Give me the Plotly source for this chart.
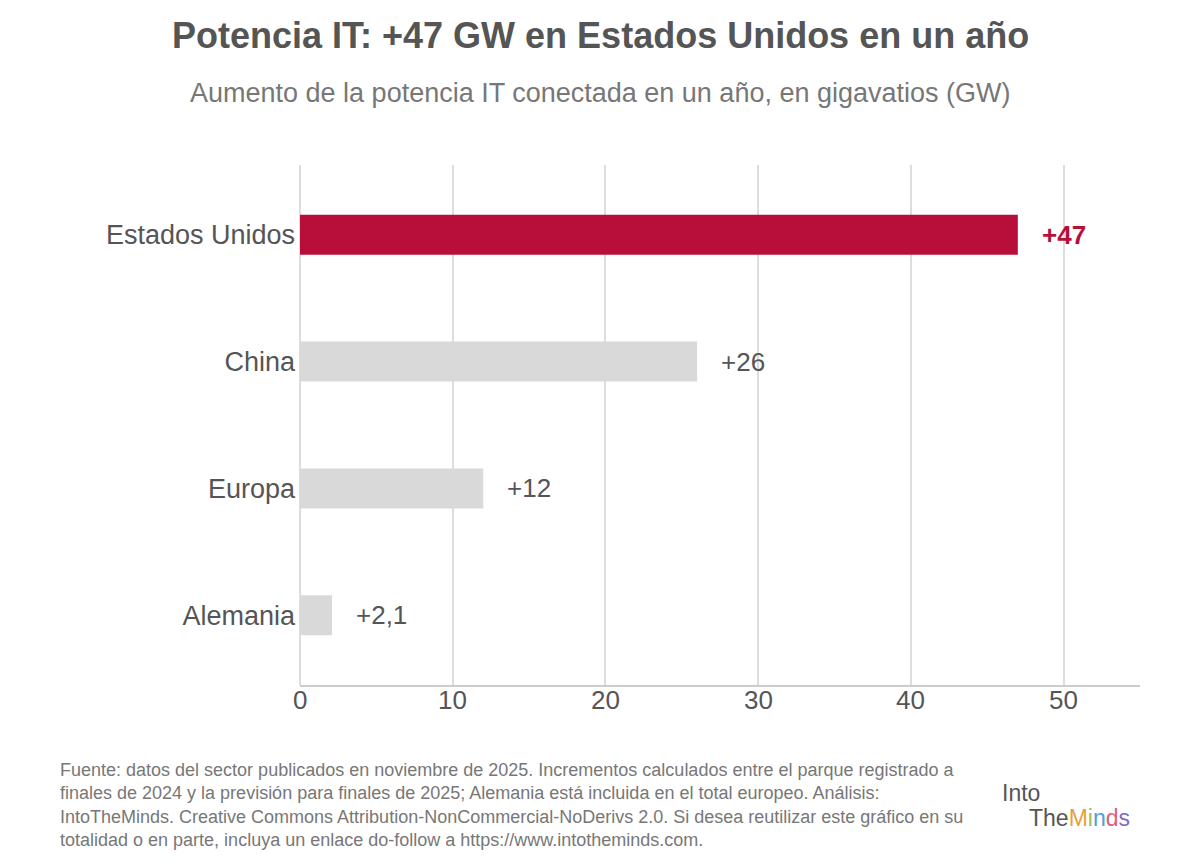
import plotly.graph_objects as go

regions = ["Estados Unidos", "China", "Europa", "Alemania"]
values = [47, 26, 12, 2.1]
labels = ["<b>+47</b>", "+26", "+12", "+2,1"]
colors = ["#b80e3a", "#d9d9d9", "#d9d9d9", "#d9d9d9"]
label_colors = ["#b80e3a", "#555", "#555", "#555"]
ticks = [0, 10, 20, 30, 40, 50]

# page offset (browser body margin) compensation
OFF = 8
L, R, T, B = 300 - OFF, 1200 - 1140 + OFF, 165 - OFF, 867 - 685 + OFF
PW, PH = 1200 - L - R, 867 - T - B


def px_x(x):
    return (x - OFF - L) / PW


def px_y(y):
    return 1 - (y - OFF - T) / PH


fig = go.Figure(go.Bar(
    x=values, y=regions, orientation="h",
    marker=dict(color=colors, line=dict(width=0)),
    width=0.315, hoverinfo="skip",
))

for r, v, t, c in zip(regions, values, labels, label_colors):
    fig.add_annotation(x=v, y=r, text=t, xanchor="left", xshift=22, showarrow=False,
                       font=dict(size=26, color=c))

# x tick labels placed closer to the axis than plotly allows
for t in ticks:
    fig.add_annotation(x=t, xref="x", yref="paper", y=px_y(700), yanchor="middle",
                       text=str(t), showarrow=False, font=dict(size=26, color="#555"))

fig.update_layout(
    width=1200, height=867,
    margin=dict(l=L, r=R, t=T, b=B),
    paper_bgcolor="white", plot_bgcolor="white",
    font=dict(family="Liberation Sans, Arial", color="#555"),
    showlegend=False,
    xaxis=dict(range=[0, 55], tickvals=ticks, showgrid=True, gridcolor="#dddddd",
               gridwidth=1.5, zeroline=True, zerolinecolor="#dddddd", zerolinewidth=1.5,
               showline=True, linecolor="#cccccc", linewidth=1.5,
               showticklabels=False, ticks=""),
    yaxis=dict(range=[3.55, -0.55], tickfont=dict(size=27, color="#555"),
               showgrid=False, ticks="", ticklabelstandoff=4),
)

fig.add_annotation(text="<b>Potencia IT: +47 GW en Estados Unidos en un año</b>",
                   xref="paper", yref="paper", x=px_x(600), xanchor="center",
                   y=px_y(35), yanchor="middle", showarrow=False,
                   font=dict(size=36, color="#555"))
fig.add_annotation(text="Aumento de la potencia IT conectada en un año, en gigavatios (GW)",
                   xref="paper", yref="paper", x=px_x(600), xanchor="center",
                   y=px_y(93), yanchor="middle", showarrow=False,
                   font=dict(size=27, color="#777"))
fig.add_annotation(
    text=("Fuente: datos del sector publicados en noviembre de 2025. Incrementos calculados entre el parque registrado a<br>"
          "finales de 2024 y la previsión para finales de 2025; Alemania está incluida en el total europeo. Análisis:<br>"
          "IntoTheMinds. Creative Commons Attribution-NonCommercial-NoDerivs 2.0. Si desea reutilizar este gráfico en su<br>"
          "totalidad o en parte, incluya un enlace do-follow a https://www.intotheminds.com."),
    xref="paper", yref="paper", align="left", x=px_x(58), xanchor="left",
    y=px_y(758), yanchor="top", showarrow=False,
    font=dict(size=18, color="#777"))
fig.add_annotation(text="Into", xref="paper", yref="paper", x=px_x(1000), xanchor="left",
                   y=px_y(793), yanchor="middle", showarrow=False,
                   font=dict(size=23, color="#555"))
fig.add_annotation(
    text="The<span style='color:#e8a13a'>M</span><span style='color:#9bc24f'>i</span>"
         "<span style='color:#4aa3d8'>n</span><span style='color:#e05d7a'>d</span>"
         "<span style='color:#7f6cc2'>s</span>",
    xref="paper", yref="paper", x=px_x(1027), xanchor="left",
    y=px_y(818), yanchor="middle", showarrow=False,
    font=dict(size=23, color="#555"))

fig.write_html("out.html")
